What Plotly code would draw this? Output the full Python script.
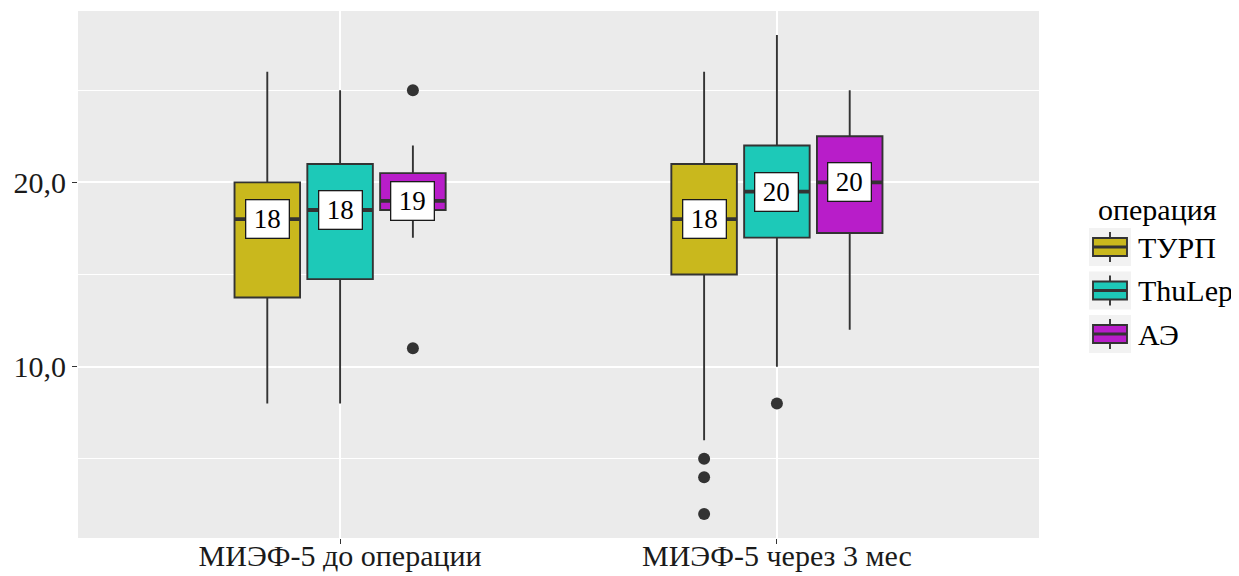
import plotly.graph_objects as go

# ---- data ----
groups = ["МИЭФ-5 до операции", "МИЭФ-5 через 3 мес"]
operations = ["ТУРП", "ThuLep", "АЭ"]
colors = ["#C9B81D", "#1DC9B8", "#B81DC9"]

# stats per operation, per group
q1 = {"ТУРП": [13.75, 15.0], "ThuLep": [14.75, 17.0], "АЭ": [18.5, 17.25]}
med = {"ТУРП": [18.0, 18.0], "ThuLep": [18.5, 19.5], "АЭ": [19.0, 20.0]}
q3 = {"ТУРП": [20.0, 21.0], "ThuLep": [21.0, 22.0], "АЭ": [20.5, 22.5]}
lo = {"ТУРП": [8.0, 6.0], "ThuLep": [8.0, 10.0], "АЭ": [17.0, 12.0]}
hi = {"ТУРП": [26.0, 26.0], "ThuLep": [25.0, 28.0], "АЭ": [22.0, 25.0]}
outliers = {"ТУРП": [[], [5.0, 4.0, 2.0]], "ThuLep": [[], [8.0]], "АЭ": [[25.0, 11.0], []]}

ytickvals = [10, 20]
yticktext = ["10,0", "20,0"]

FONT = "Liberation Serif"
FS = 30
DODGE = 1 / 6
BW = 0.15
LINE = "#333333"
LW = 1.9

# page body has an 8px margin: figure is drawn from (8, 8)
OFF = 8
W, H = 1239 - OFF, 576 - OFF

fig = go.Figure()
for i, op in enumerate(operations):
    off = (i - 1) * DODGE
    xs = [g + 1 + off for g in range(len(groups))]
    fig.add_trace(go.Box(
        x=xs, q1=q1[op], median=med[op], q3=q3[op],
        lowerfence=lo[op], upperfence=hi[op],
        width=BW, whiskerwidth=0, fillcolor=colors[i],
        line=dict(color=LINE, width=LW), boxpoints=False,
        name=op, showlegend=False, hoverinfo="skip",
    ))
    # thicker median lines
    mx, my = [], []
    for g in range(len(groups)):
        mx += [xs[g] - BW / 2, xs[g] + BW / 2, None]
        my += [med[op][g], med[op][g], None]
    fig.add_trace(go.Scatter(x=mx, y=my, mode="lines",
                             line=dict(color=LINE, width=3.8),
                             showlegend=False, hoverinfo="skip"))
    ox, oy = [], []
    for g in range(len(groups)):
        for v in outliers[op][g]:
            ox.append(xs[g]); oy.append(v)
    if ox:
        fig.add_trace(go.Scatter(x=ox, y=oy, mode="markers",
                                 marker=dict(color=LINE, size=12),
                                 showlegend=False, hoverinfo="skip"))
    for g in range(len(groups)):
        fig.add_annotation(x=xs[g], y=med[op][g], text=str(round(med[op][g])),
                           showarrow=False, bgcolor="white", bordercolor="#1a1a1a",
                           borderwidth=1.3, borderpad=7, width=28, height=23,
                           font=dict(family=FONT, size=27, color="black"))

# ---- custom legend (image pixel -> paper) ----
L, R, T, B = 78, 1039, 11, 538
def px(x): return (x - L) / (R - L)
def py(y): return (B - y) / (B - T)

fig.add_annotation(xref="paper", yref="paper", x=px(1096), y=py(209), text="операция",
                   showarrow=False, xanchor="left", yanchor="middle",
                   font=dict(family=FONT, size=FS, color="black"))
for i, op in enumerate(operations):
    cy = 247 + i * 43.5
    fig.add_shape(type="rect", xref="paper", yref="paper",
                  x0=px(1089), x1=px(1131), y0=py(cy - 19), y1=py(cy + 19),
                  fillcolor="#F2F2F2", line=dict(width=0), layer="below")
    fig.add_shape(type="line", xref="paper", yref="paper",
                  x0=px(1110), x1=px(1110), y0=py(cy - 15), y1=py(cy + 15),
                  line=dict(color=LINE, width=LW))
    fig.add_shape(type="rect", xref="paper", yref="paper",
                  x0=px(1093), x1=px(1127), y0=py(cy - 9), y1=py(cy + 9),
                  fillcolor=colors[i], line=dict(color=LINE, width=LW))
    fig.add_shape(type="line", xref="paper", yref="paper",
                  x0=px(1093), x1=px(1127), y0=py(cy), y1=py(cy),
                  line=dict(color=LINE, width=2.8))
    fig.add_annotation(xref="paper", yref="paper", x=px(1136), y=py(cy), text=op,
                       showarrow=False, xanchor="left", yanchor="middle",
                       font=dict(family=FONT, size=FS, color="black"))

fig.update_layout(
    width=W, height=H,
    margin=dict(l=L - OFF, r=1239 - R, t=T - OFF, b=576 - B, autoexpand=False),
    plot_bgcolor="#EBEBEB", paper_bgcolor="white",
    font=dict(family=FONT, size=FS, color="#1a1a1a"),
    showlegend=False,
)
fig.update_xaxes(range=[0.4, 2.6], tickvals=[1, 2], ticktext=groups, automargin=False,
                 showgrid=True, gridcolor="white", gridwidth=1.6,
                 ticks="outside", ticklen=5, tickcolor=LINE, zeroline=False,
                 ticklabelstandoff=-14,
                 tickfont=dict(family=FONT, size=FS, color="#1a1a1a"))
fig.update_yaxes(range=[0.7, 29.3], tickvals=ytickvals, ticktext=yticktext, automargin=False,
                 showgrid=True, gridcolor="white", gridwidth=1.6,
                 minor=dict(tickvals=[5, 15, 25], showgrid=True, gridcolor="white", gridwidth=0.8),
                 ticks="outside", ticklen=5, tickcolor=LINE, zeroline=False,
                 tickfont=dict(family=FONT, size=FS, color="#1a1a1a"))

fig.write_html("out.html")
